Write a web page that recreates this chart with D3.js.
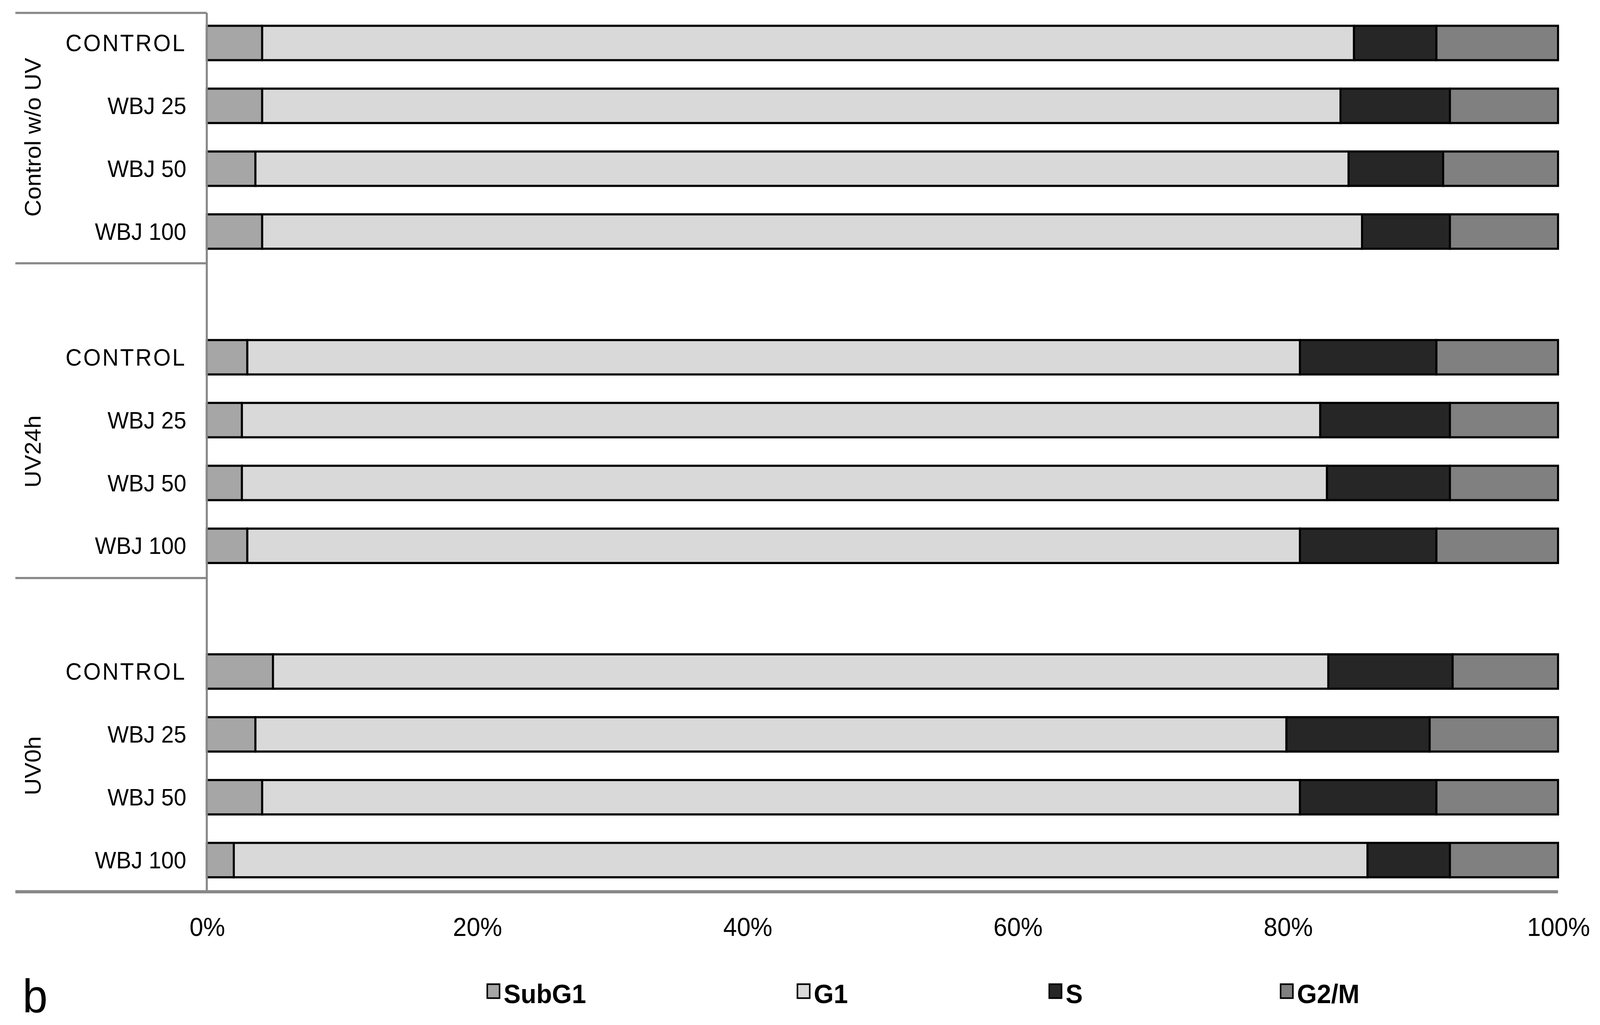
<!DOCTYPE html>
<html>
<head>
<meta charset="utf-8">
<script src="https://cdn.jsdelivr.net/npm/d3@7"></script>
<style>
  html, body { margin: 0; padding: 0; background: #fff; overflow: hidden; width: 100vw; height: 100vh; }
  svg { display: block; width: 100vw; height: 100vh; }
  text { font-family: "Liberation Sans", Arial, sans-serif; }
</style>
</head>
<body>
<div id="chart"></div>
<script>
// data (percent of cells)
var groups = ["Control w/o UV", "UV24h", "UV0h"];
var rows = ["CONTROL", "WBJ 25", "WBJ 50", "WBJ 100"];
var phases = ["SubG1", "G1", "S", "G2/M"];
var subG1 = [4.1, 4.1, 3.6, 4.1,  3.0, 2.6, 2.6, 3.0,  4.9, 3.6, 4.1, 2.0];
var g1    = [80.8, 79.8, 80.9, 81.4,  77.9, 79.8, 80.3, 77.9,  78.1, 76.3, 76.8, 83.9];
var sPh   = [6.1, 8.1, 7.0, 6.5,  10.1, 9.6, 9.1, 10.1,  9.2, 10.6, 10.1, 6.1];
var g2m   = [9.0, 8.0, 8.5, 8.0,  9.0, 8.0, 8.0, 9.0,  7.8, 9.5, 9.0, 8.0];
var ticks = [0, 20, 40, 60, 80, 100];
var colors = ["#a6a6a6", "#d9d9d9", "#262626", "#808080"];

var W = 1563, H = 954;
var svg = d3.select("#chart").append("svg")
  .attr("viewBox", "0 0 " + W + " " + H)
  .attr("preserveAspectRatio", "none");

var x = d3.scaleLinear().domain([0, 100]).range([202, 1522]);
var y = d3.scaleLinear().domain([0, 13]).range([40, 800.5]);
var barH = 32;

var data = [];
for (var i = 0; i < 12; i++) {
  var g = Math.floor(i / 4);
  var vals = [subG1[i], g1[i], sPh[i], g2m[i]];
  var tot = d3.sum(vals), acc = 0;
  vals.forEach(function(v, k) {
    data.push({ p: i + g, k: k, x0: acc / tot * 100, x1: (acc + v) / tot * 100 });
    acc += v;
  });
}

svg.selectAll("rect.seg").data(data).enter().append("rect")
  .attr("class", "seg")
  .attr("x", d => x(d.x0)).attr("width", d => x(d.x1) - x(d.x0))
  .attr("y", d => y(d.p) - barH / 2).attr("height", barH)
  .attr("fill", d => colors[d.k])
  .attr("stroke", "#000").attr("stroke-width", 2);

// frame lines
var lineC = "#888";
svg.append("line").attr("x1", x(0)).attr("x2", x(0)).attr("y1", 12).attr("y2", 830)
  .attr("stroke", lineC).attr("stroke-width", 2);
[12, 245, 538].forEach(function(yy) {
  svg.append("line").attr("x1", 15).attr("x2", x(0)).attr("y1", yy).attr("y2", yy)
    .attr("stroke", lineC).attr("stroke-width", 2);
});
svg.append("line").attr("x1", 15).attr("x2", x(100)).attr("y1", 830).attr("y2", 830)
  .attr("stroke", lineC).attr("stroke-width", 3);

// row labels
for (var i = 0; i < 12; i++) {
  var g = Math.floor(i / 4);
  svg.append("text").attr("x", 182).attr("y", y(i + g)).attr("dy", "0.35em")
    .attr("text-anchor", "end").attr("font-size", 22)
    .attr("letter-spacing", rows[i % 4] == "CONTROL" ? 1.5 : 0)
    .text(rows[i % 4]);
}
// group labels
groups.forEach(function(gname, g) {
  var cy = (y(g * 5) + y(g * 5 + 3)) / 2;
  svg.append("text").attr("transform", "translate(32," + cy + ") rotate(-90)")
    .attr("text-anchor", "middle").attr("dy", "0.35em").attr("font-size", 22)
    .text(gname);
});

// x axis
var ax = svg.append("g").attr("transform", "translate(0,830)")
  .call(d3.axisBottom(x).tickValues(ticks).tickSize(0).tickPadding(24)
    .tickFormat(d => d + "%"));
ax.select(".domain").remove();
ax.selectAll("text").attr("font-size", 24).attr("fill", "#000")
  .attr("font-family", "Liberation Sans, Arial, sans-serif");

// legend
var legX = [476, 779, 1025, 1251];
phases.forEach(function(p, k) {
  svg.append("rect").attr("x", legX[k]).attr("y", 916).attr("width", 12).attr("height", 13)
    .attr("fill", colors[k]).attr("stroke", "#000").attr("stroke-width", 1.5);
  svg.append("text").attr("x", legX[k] + 16).attr("y", 925).attr("dy", "0.35em")
    .attr("font-size", 25).attr("font-weight", "bold").text(p);
});
svg.append("text").attr("x", 22).attr("y", 942).attr("font-size", 44).text("b");
</script>
</body>
</html>
